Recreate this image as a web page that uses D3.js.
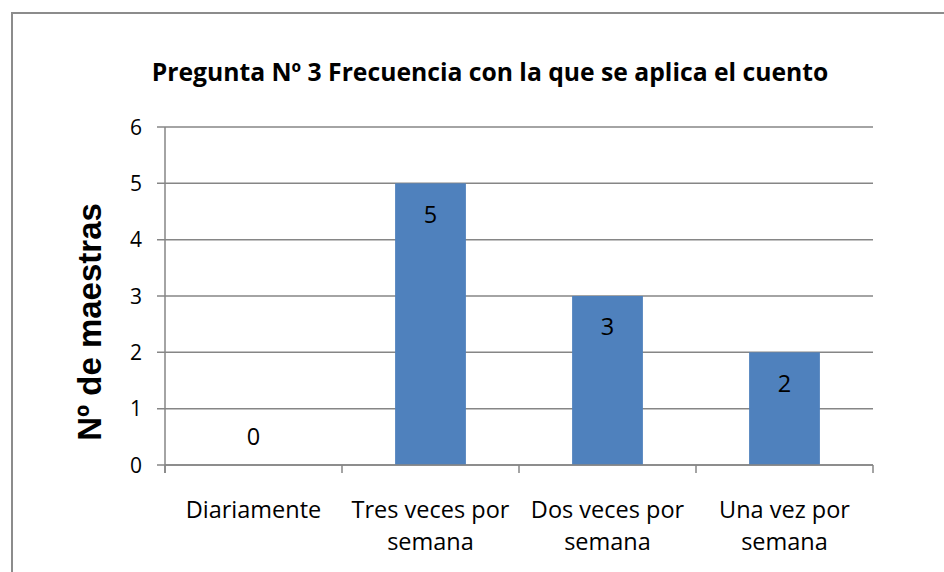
<!DOCTYPE html>
<html>
<head>
<meta charset="utf-8">
<script src="https://cdn.jsdelivr.net/npm/d3@7"></script>
<style>
  body { margin: 0; background: #fff; }
  svg { display: block; }
</style>
</head>
<body>
<svg width="944" height="572"></svg>
<script>
    // Chart values
    const categories = [["Diariamente"], ["Tres veces por", "semana"], ["Dos veces por", "semana"], ["Una vez por", "semana"]];
    const values = [0, 5, 3, 2];
    const yTicks = [0, 1, 2, 3, 4, 5, 6];
    const chartTitle = "Pregunta Nº 3 Frecuencia con la que se aplica el cuento";
    const yTitle = "Nº de maestras";

    const margin = { top: 127, right: 71, bottom: 107, left: 165 },
      width = 944 - margin.left - margin.right,
      height = 572 - margin.top - margin.bottom;

    const font = "'Open Sans', 'Noto Sans', sans-serif";

    const root = d3.select("svg");

    // outer frame
    root.append("rect")
      .attr("x", 12).attr("y", 13)
      .attr("width", 960).attr("height", 600)
      .attr("fill", "none")
      .attr("stroke", "#8c8c8c")
      .attr("stroke-width", 2);

    root.append("text")
      .attr("x", 490).attr("y", 81)
      .attr("text-anchor", "middle")
      .style("font-family", font)
      .style("font-weight", "bold")
      .style("font-size", "24.7px")
      .attr("fill", "#000")
      .text(chartTitle);

    const svg = root.append("g")
      .attr("transform", `translate(${margin.left}, ${margin.top})`);

    const xScale = d3.scaleBand()
      .domain(d3.range(categories.length))
      .range([0, width]);

    const yScale = d3.scaleLinear()
      .domain([0, 6])
      .range([height, 0]);

    // gridlines
    svg.append("g")
      .selectAll("line")
      .data(yTicks)
      .enter().append("line")
      .attr("x1", -8).attr("x2", width)
      .attr("y1", d => yScale(d)).attr("y2", d => yScale(d))
      .attr("stroke", "#868686")
      .attr("stroke-width", 1.5);

    // y axis line
    svg.append("line")
      .attr("x1", 0).attr("x2", 0)
      .attr("y1", 0).attr("y2", height + 8)
      .attr("stroke", "#868686")
      .attr("stroke-width", 1.5);

    // y tick labels
    svg.append("g")
      .selectAll("text")
      .data(yTicks)
      .enter().append("text")
      .attr("x", -23)
      .attr("y", d => yScale(d))
      .attr("dy", "0.36em")
      .attr("text-anchor", "end")
      .style("font-family", font)
      .style("font-size", "21px")
      .text(d => d);

    // x ticks
    const xEdges = d3.range(categories.length + 1).map(i => i * xScale.bandwidth());
    svg.append("g")
      .selectAll("line")
      .data(xEdges)
      .enter().append("line")
      .attr("x1", d => d).attr("x2", d => d)
      .attr("y1", height).attr("y2", height + 8)
      .attr("stroke", "#868686")
      .attr("stroke-width", 1.5);

    // bars
    const barW = xScale.bandwidth() * 0.4;
    svg.append("g")
      .selectAll("rect")
      .data(values)
      .enter().append("rect")
      .attr("x", (d, i) => xScale(i) + (xScale.bandwidth() - barW) / 2)
      .attr("y", d => yScale(d))
      .attr("width", barW)
      .attr("height", d => height - yScale(d))
      .attr("fill", "#4f81bd");

    // redraw baseline on top of bars
    svg.append("line")
      .attr("x1", 0).attr("x2", width)
      .attr("y1", height).attr("y2", height)
      .attr("stroke", "#868686")
      .attr("stroke-width", 1.5);

    // data labels
    svg.append("g")
      .selectAll("text")
      .data(values)
      .enter().append("text")
      .attr("x", (d, i) => xScale(i) + xScale.bandwidth() / 2)
      .attr("y", d => Math.min(yScale(d) + 31, height - 28))
      .attr("dy", "0.36em")
      .attr("text-anchor", "middle")
      .style("font-family", font)
      .style("font-size", "23.5px")
      .text(d => d);

    // category labels
    const catLabels = svg.append("g")
      .selectAll("text")
      .data(categories)
      .enter().append("text")
      .attr("x", (d, i) => xScale(i) + xScale.bandwidth() / 2)
      .attr("y", height + 53)
      .attr("text-anchor", "middle")
      .style("font-family", font)
      .style("font-size", "23.5px");
    catLabels.selectAll("tspan")
      .data(d => d)
      .enter().append("tspan")
      .attr("x", function () { return d3.select(this.parentNode).attr("x"); })
      .attr("dy", (d, i) => i === 0 ? 0 : 32)
      .text(d => d);

    // y axis title
    root.append("text")
      .attr("transform", "translate(101, 322) rotate(-90)")
      .attr("text-anchor", "middle")
      .style("font-family", "'Liberation Sans', Arial, sans-serif")
      .style("font-weight", "bold")
      .style("font-size", "33px")
      .text(yTitle);
</script>
</body>
</html>
